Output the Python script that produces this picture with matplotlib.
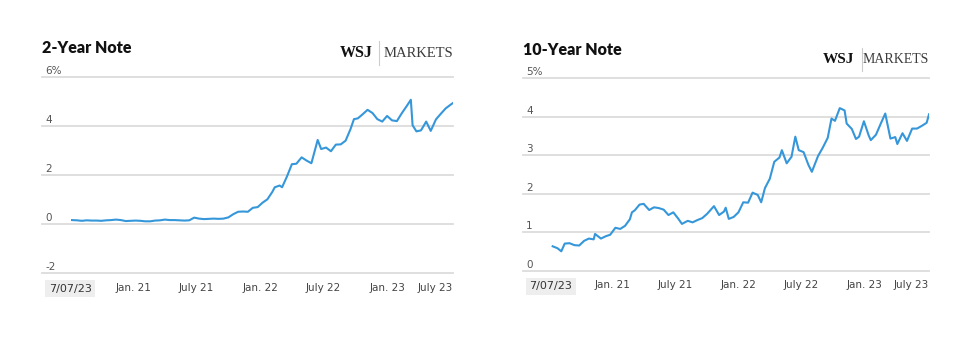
import pandas as pd
import matplotlib.pyplot as plt
import matplotlib.transforms as mtransforms

# 2-year note yield, %
two_dates = [
    "2020-07-10", "2020-07-24", "2020-08-07", "2020-08-21", "2020-09-04", "2020-09-18",
    "2020-10-02", "2020-10-16", "2020-10-30", "2020-11-13", "2020-11-27", "2020-12-11",
    "2020-12-25", "2021-01-08", "2021-01-22", "2021-02-05", "2021-02-19", "2021-03-05",
    "2021-03-19", "2021-04-02", "2021-04-16", "2021-04-30", "2021-05-14", "2021-05-28",
    "2021-06-11", "2021-06-25", "2021-07-09", "2021-07-23", "2021-08-06", "2021-08-20",
    "2021-09-03", "2021-09-17", "2021-10-01", "2021-10-15", "2021-10-29", "2021-11-12",
    "2021-11-26", "2021-12-10", "2021-12-24", "2022-01-07", "2022-01-21", "2022-02-04",
    "2022-02-11", "2022-02-25", "2022-03-04", "2022-03-18", "2022-04-01", "2022-04-14",
    "2022-04-29", "2022-05-13", "2022-05-27", "2022-06-14", "2022-06-24", "2022-07-08",
    "2022-07-22", "2022-08-05", "2022-08-19", "2022-09-02", "2022-09-16", "2022-09-26",
    "2022-10-07", "2022-10-21", "2022-11-04", "2022-11-18", "2022-12-02", "2022-12-16",
    "2022-12-30", "2023-01-13", "2023-01-27", "2023-02-10", "2023-02-24", "2023-03-08",
    "2023-03-13", "2023-03-24", "2023-04-06", "2023-04-21", "2023-05-04", "2023-05-19",
    "2023-06-02", "2023-06-16", "2023-06-30", "2023-07-07",
]
two_vals = [
    0.16, 0.15, 0.13, 0.15, 0.14, 0.14,
    0.13, 0.15, 0.16, 0.18, 0.16, 0.12,
    0.13, 0.14, 0.13, 0.11, 0.11, 0.14,
    0.15, 0.18, 0.16, 0.16, 0.15, 0.14,
    0.15, 0.26, 0.22, 0.20, 0.21, 0.22,
    0.21, 0.22, 0.27, 0.40, 0.50, 0.51,
    0.50, 0.66, 0.69, 0.87, 1.01, 1.31,
    1.50, 1.57, 1.50, 1.94, 2.44, 2.46,
    2.72, 2.59, 2.48, 3.43, 3.06, 3.12,
    2.97, 3.24, 3.25, 3.40, 3.87, 4.28,
    4.31, 4.48, 4.66, 4.53, 4.28, 4.18,
    4.41, 4.23, 4.20, 4.52, 4.81, 5.07,
    4.03, 3.78, 3.82, 4.18, 3.80, 4.27,
    4.50, 4.72, 4.87, 4.94,
]

# 10-year note yield, %
ten_dates = [
    "2020-07-10", "2020-07-24", "2020-08-04", "2020-08-14", "2020-08-28", "2020-09-11",
    "2020-09-25", "2020-10-09", "2020-10-23", "2020-11-06", "2020-11-10", "2020-11-27",
    "2020-12-11", "2020-12-24", "2021-01-08", "2021-01-22", "2021-02-05", "2021-02-19",
    "2021-02-25", "2021-03-05", "2021-03-19", "2021-03-31", "2021-04-16", "2021-04-30",
    "2021-05-14", "2021-05-28", "2021-06-11", "2021-06-25", "2021-07-09", "2021-07-20",
    "2021-08-06", "2021-08-20", "2021-09-03", "2021-09-17", "2021-10-01", "2021-10-21",
    "2021-11-05", "2021-11-19", "2021-11-24", "2021-12-03", "2021-12-17", "2021-12-31",
    "2022-01-14", "2022-01-28", "2022-02-10", "2022-02-25", "2022-03-07", "2022-03-18",
    "2022-04-01", "2022-04-14", "2022-04-29", "2022-05-06", "2022-05-20", "2022-06-03",
    "2022-06-14", "2022-06-24", "2022-07-08", "2022-07-22", "2022-08-01", "2022-08-19",
    "2022-09-02", "2022-09-16", "2022-09-27", "2022-10-07", "2022-10-21", "2022-11-04",
    "2022-11-10", "2022-11-25", "2022-12-07", "2022-12-16", "2022-12-30", "2023-01-13",
    "2023-01-19", "2023-02-03", "2023-02-17", "2023-03-02", "2023-03-17", "2023-03-31",
    "2023-04-06", "2023-04-21", "2023-05-04", "2023-05-19", "2023-06-02", "2023-06-16",
    "2023-06-30", "2023-07-07",
]
ten_vals = [
    0.64, 0.59, 0.51, 0.71, 0.72, 0.67,
    0.66, 0.78, 0.84, 0.82, 0.96, 0.84,
    0.90, 0.94, 1.12, 1.09, 1.17, 1.34,
    1.52, 1.57, 1.72, 1.74, 1.58, 1.65,
    1.63, 1.59, 1.45, 1.52, 1.36, 1.22,
    1.30, 1.26, 1.32, 1.37, 1.48, 1.68,
    1.45, 1.54, 1.64, 1.35, 1.40, 1.52,
    1.78, 1.77, 2.03, 1.97, 1.78, 2.15,
    2.39, 2.83, 2.94, 3.13, 2.79, 2.96,
    3.48, 3.13, 3.08, 2.75, 2.57, 2.98,
    3.20, 3.45, 3.95, 3.89, 4.22, 4.16,
    3.82, 3.68, 3.42, 3.48, 3.88, 3.51,
    3.39, 3.53, 3.82, 4.08, 3.43, 3.47,
    3.29, 3.57, 3.37, 3.69, 3.69, 3.76,
    3.84, 4.06,
]

tick_dates = ["2021-01-01", "2021-07-01", "2022-01-01", "2022-07-01", "2023-01-01", "2023-07-01"]
tick_labels = ["Jan. 21", "July 21", "Jan. 22", "July 22", "Jan. 23", "July 23"]

LINE = "#3597da"
GRID = "#dcdcdc"
FONT = ["Liberation Sans Narrow", "DejaVu Sans"]
SERIF = ["Liberation Serif", "DejaVu Serif"]

fig = plt.figure(figsize=(9.8, 3.53), dpi=100)
fig.patch.set_facecolor("white")

panels = [
    dict(rect=[0.0429, 0.2266, 0.4194, 0.5553], title="2-Year Note", title_y=1.148,
         logo_y=1.122, wsj_x=0.805, sep_x=0.819, logo_fs=10.5,
         dates=two_dates, vals=two_vals, yticks=[-2, 0, 2, 4, 6], top_lbl="6%"),
    dict(rect=[0.5337, 0.2323, 0.4143, 0.5467], title="10-Year Note", title_y=1.145,
         logo_y=1.098, wsj_x=0.815, sep_x=0.834, logo_fs=10,
         dates=ten_dates, vals=ten_vals, yticks=[0, 1, 2, 3, 4, 5], top_lbl="5%"),
]

for p in panels:
    ax = fig.add_axes(p["rect"])
    x = pd.to_datetime(p["dates"])
    ax.plot(x, p["vals"], color=LINE, lw=1.5, solid_joinstyle="round", zorder=3)
    ax.set_xlim(pd.Timestamp("2020-04-15"), pd.Timestamp("2023-07-07"))
    ax.set_ylim(p["yticks"][0], p["yticks"][-1])
    for s in ax.spines.values():
        s.set_visible(False)
    ax.set_xticks([])
    ax.set_yticks([])
    for yv in p["yticks"]:
        ax.axhline(yv, color=GRID, lw=1.3, zorder=1, clip_on=False)

    # y labels sitting above the gridlines
    tr = mtransforms.blended_transform_factory(ax.transAxes, ax.transData)
    off = mtransforms.offset_copy(tr, fig=fig, x=3, y=1, units="dots")
    for yv in p["yticks"]:
        lbl = p["top_lbl"] if yv == p["yticks"][-1] else str(yv)
        ax.text(0, yv, lbl, transform=off, ha="left", va="bottom",
                fontsize=7.5, color="#555555", family=FONT)

    # x labels
    trx = mtransforms.blended_transform_factory(ax.transData, ax.transAxes)
    for d, lbl in zip(tick_dates, tick_labels):
        ha = "center"
        xd = pd.Timestamp(d)
        if lbl == "July 23":
            ha = "right"
            xd = pd.Timestamp("2023-07-07")
        ax.text(xd, -0.075, lbl, transform=trx, ha=ha, va="center",
                fontsize=7.5, color="#444444", family=FONT)
    ax.text(0.016, -0.08, "7/07/23", transform=ax.transAxes, ha="left", va="center",
            fontsize=8, color="#333333", family=FONT,
            bbox=dict(boxstyle="square,pad=0.3", fc="#eeeeee", ec="none"))

    # title and logo
    ax.text(0, p["title_y"], p["title"], transform=ax.transAxes, ha="left", va="center",
            fontsize=11.5, fontweight="heavy", color="#111111", family=["Lato", "DejaVu Sans"])
    ax.text(1.0, p["logo_y"], "MARKETS", transform=ax.transAxes, ha="right", va="center",
            fontsize=p["logo_fs"], color="#3c3c3c", family=SERIF)
    ax.text(p["wsj_x"], p["logo_y"], "WSJ", transform=ax.transAxes, ha="right", va="center",
            fontsize=p["logo_fs"] + 1, fontweight="bold", color="#111111", family=SERIF)
    ax.plot([p["sep_x"], p["sep_x"]], [p["logo_y"] - 0.06, p["logo_y"] + 0.06],
            transform=ax.transAxes, color="#cccccc", lw=0.8, clip_on=False)

fig.savefig("out.png", dpi=100, facecolor="white")
